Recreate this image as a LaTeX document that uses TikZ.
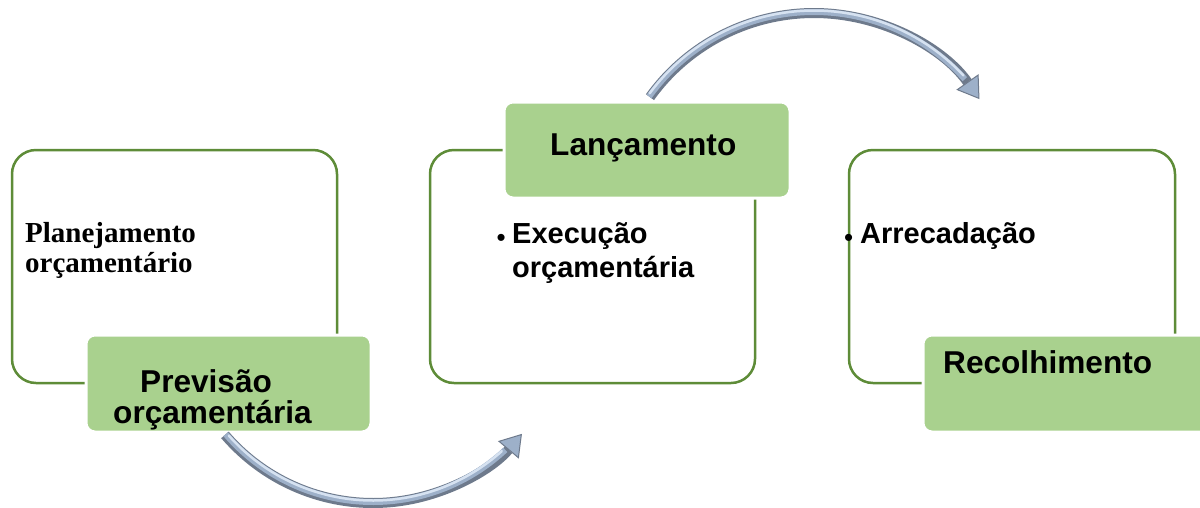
\documentclass[tikz,border=0pt]{standalone}
\usepackage{fontspec}
\setmainfont{Liberation Sans}
\newfontfamily\timesfont{Liberation Serif}
\usetikzlibrary{arrows.meta}
\definecolor{olgreen}{HTML}{5E8C38}
\definecolor{fillgreen}{HTML}{A9D18E}
\definecolor{arrdark}{HTML}{6E7A8C}
\definecolor{arrmid}{HTML}{9DB0C9}
\definecolor{arrlight}{HTML}{D6E2F1}
\begin{document}
\begin{tikzpicture}[x=1pt,y=-1pt,
  outline/.style={draw=olgreen, line width=2.5pt, rounded corners=24pt, inner sep=0pt, outer sep=0pt},
  tagbox/.style={fill=fillgreen, draw=white, line width=3pt, rounded corners=9pt, inner sep=0pt, outer sep=0pt},
  lbl/.style={anchor=base west, inner sep=0pt, font=\bfseries\fontsize{31.6}{31.6}\selectfont},
  sublbl/.style={anchor=base west, inner sep=0pt, font=\bfseries\fontsize{29}{29}\selectfont},
  serlbl/.style={anchor=base west, inner sep=0pt, font=\timesfont\bfseries\fontsize{29}{29}\selectfont},
  bul/.style={anchor=base west, inner sep=0pt, font=\fontsize{26}{26}\selectfont},
  arrbase/.style={draw=arrdark, line width=10pt, -{Triangle[length=21pt,width=27pt,line width=1pt,fill=arrmid]}},
  arrmidl/.style={draw=arrmid, line width=6pt},
  arrhi/.style={draw=arrlight, line width=2.5pt, line cap=round}
]
\clip (0,0) rectangle (1200,507);
\fill[white] (0,0) rectangle (1200,507);

% outline boxes
\node[outline, minimum width=325pt, minimum height=233pt] (o1) at (174.5,266.5) {};
\node[outline, minimum width=325pt, minimum height=233pt] (o2) at (592.5,266.5) {};
\node[outline, minimum width=326pt, minimum height=233pt] (o3) at (1012,266.5) {};

% green tag boxes
\node[tagbox, minimum width=285pt, minimum height=97pt] (g1) at (228.5,383.5) {};
\node[tagbox, minimum width=286pt, minimum height=96pt] (g2) at (647,150) {};
\node[tagbox, minimum width=289pt, minimum height=97pt] (g3) at (1067.5,383.5) {};

% texts
\node[serlbl] (t1a) at (25,242) {Planejamento};
\node[serlbl] (t1b) at (25,272) {orçamentário};
\node[lbl] (p1a) at (140,392) {Previsão};
\node[lbl] (p1b) at (113,423) {orçamentária};
\node[lbl] (p2) at (550,155) {Lançamento};
\node[bul] (b2) at (496.5,246) {•};
\node[sublbl] (t2a) at (512,243) {Execução};
\node[sublbl] (t2b) at (512,277) {orçamentária};
\node[bul] (b3) at (844,246) {•};
\node[sublbl] (t3) at (860,243) {Arrecadação};
\node[lbl] (p3) at (943,373) {Recolhimento};

% arrow centres
\coordinate (c1) at (373,308);
\coordinate (c2) at (814,215);

% bottom arrow (g1 -> o2)
\draw[arrbase] ([shift={(139.4:195)}]c1) arc[start angle=139.4, end angle=40.2, radius=195];
\draw[arrmidl] ([shift={(139.4:194)}]c1) arc[start angle=139.4, end angle=47, radius=194];
\draw[arrhi] ([shift={(138.5:192.5)}]c1) arc[start angle=138.5, end angle=48, radius=192.5];

% top arrow (g2 -> o3)
\draw[arrbase] ([shift={(215.7:202)}]c2) arc[start angle=215.7, end angle=325, radius=202];
\draw[arrmidl] ([shift={(215.7:203)}]c2) arc[start angle=215.7, end angle=318, radius=203];
\draw[arrhi] ([shift={(216.5:204.5)}]c2) arc[start angle=216.5, end angle=317, radius=204.5];
\end{tikzpicture}
\end{document}
